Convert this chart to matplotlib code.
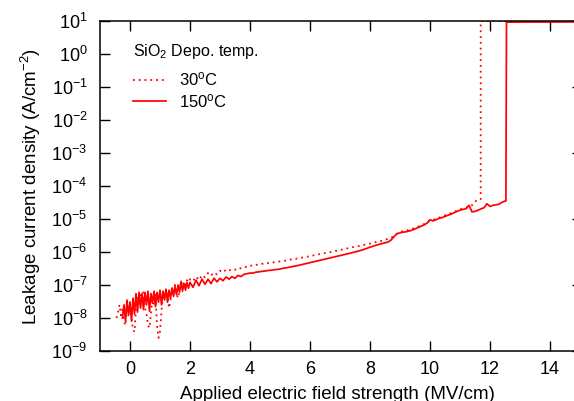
import numpy as np
import matplotlib
matplotlib.use("Agg")
import matplotlib.pyplot as plt
from matplotlib.ticker import FixedLocator, NullLocator, FixedFormatter

plt.rcParams['font.family'] = ['Liberation Sans', 'DejaVu Sans']
plt.rcParams['mathtext.fontset'] = 'custom'
plt.rcParams['mathtext.rm'] = 'Liberation Sans'
plt.rcParams['mathtext.it'] = 'Liberation Sans:italic'
plt.rcParams['mathtext.default'] = 'regular'

# ---------------- data: 150 C (solid) ----------------
x150_a = np.round(np.arange(-0.25, 2.0001, 0.05), 2)
y150_a = [1.0e-8, 2.5e-8, 8.0e-9, 3.5e-8, 1.2e-8, 3.0e-8, 8.0e-9, 4.0e-8, 1.3e-8, 5.5e-8,
          1.5e-8, 6.0e-8, 2.0e-8, 5.5e-8, 1.8e-8, 6.0e-8, 2.5e-8, 6.5e-8, 1.6e-8, 5.5e-8,
          2.8e-8, 6.5e-8, 2.2e-8, 6.0e-8, 3.0e-8, 7.0e-8, 2.5e-8, 6.5e-8, 3.5e-8, 7.5e-8,
          3.0e-8, 7.0e-8, 4.0e-8, 8.0e-8, 4.5e-8, 9.0e-8, 5.0e-8, 1.0e-7, 6.0e-8, 1.3e-7,
          6.5e-8, 1.1e-7, 7.0e-8, 1.2e-7, 8.0e-8, 1.2e-7]
x150_b = np.round(np.arange(2.1, 8.6001, 0.1), 2)
y150_b = [8.5e-8, 1.4e-7, 9.5e-8, 1.5e-7, 1.05e-7, 1.5e-7, 1.1e-7, 1.6e-7, 1.25e-7, 1.6e-7,
          1.35e-7, 1.75e-7, 1.5e-7, 1.8e-7, 1.6e-7, 1.95e-7, 1.8e-7, 2.1e-7, 2.2e-7, 2.3e-7,
          2.3e-7, 2.45e-7, 2.5e-7, 2.6e-7, 2.65e-7, 2.75e-7, 2.8e-7, 2.9e-7, 2.95e-7, 3.05e-7,
          3.2e-7, 3.3e-7, 3.45e-7, 3.6e-7, 3.75e-7, 3.9e-7, 4.1e-7, 4.3e-7, 4.5e-7, 4.8e-7,
          5.0e-7, 5.3e-7, 5.5e-7, 5.8e-7, 6.1e-7, 6.4e-7, 6.7e-7, 7.0e-7, 7.4e-7, 7.8e-7,
          8.2e-7, 8.6e-7, 9.0e-7, 9.5e-7, 1.0e-6, 1.06e-6, 1.12e-6, 1.2e-6, 1.3e-6, 1.4e-6,
          1.5e-6, 1.6e-6, 1.7e-6, 1.8e-6, 1.9e-6, 2.0e-6]
x150_c = np.round(np.arange(8.7, 12.5001, 0.1), 2)
y150_c = [2.3e-6, 2.9e-6, 3.6e-6, 3.8e-6, 4.0e-6, 4.1e-6, 4.3e-6, 4.6e-6, 5.0e-6, 5.5e-6,
          6.0e-6, 6.6e-6, 7.5e-6, 9.5e-6, 8.8e-6, 9.5e-6, 1.05e-5, 1.1e-5, 1.2e-5, 1.3e-5,
          1.4e-5, 1.55e-5, 1.7e-5, 1.85e-5, 1.95e-5, 2.05e-5, 2.6e-5, 1.65e-5, 1.7e-5, 1.85e-5,
          2.0e-5, 2.2e-5, 2.9e-5, 2.4e-5, 2.6e-5, 2.7e-5, 2.8e-5, 3.2e-5, 3.5e-5]
x150_d = [12.53, 12.55, 13.0, 13.5, 14.0, 14.5, 14.8]
y150_d = [3.5e-5, 9.2, 9.3, 9.3, 9.3, 9.4, 9.4]

# ---------------- data: 30 C (dotted) ----------------
x30_a = np.round(np.arange(-0.45, 2.0001, 0.05), 2)
y30_a = [1.0e-8, 1.5e-8, 2.5e-8, 1.2e-8, 2.0e-8, 8.0e-9, 6.0e-9, 2.5e-8, 1.5e-8, 3.0e-8,
         1.0e-8, 4.5e-9, 3.8e-9, 2.0e-8, 4.0e-8, 2.5e-8, 5.0e-8, 3.0e-8, 6.0e-8, 2.0e-8,
         1.3e-8, 6.0e-9, 5.0e-9, 1.5e-8, 4.5e-8, 2.5e-8, 5.5e-8, 6.0e-9, 2.5e-9, 4.0e-9,
         1.5e-8, 6.0e-8, 4.0e-8, 7.0e-8, 5.0e-8, 2.0e-8, 3.5e-8, 8.0e-8, 6.0e-8, 1.0e-7,
         5.5e-8, 4.0e-8, 6.5e-8, 1.1e-7, 9.0e-8, 1.3e-7, 1.0e-7, 1.4e-7, 1.2e-7, 1.5e-7]
x30_b = np.round(np.arange(2.1, 8.6001, 0.1), 2)
y30_b = [1.3e-7, 1.8e-7, 1.4e-7, 2.0e-7, 1.7e-7, 2.3e-7, 1.9e-7, 2.4e-7, 2.1e-7, 2.7e-7,
         2.4e-7, 2.9e-7, 2.7e-7, 3.1e-7, 2.9e-7, 3.3e-7, 3.2e-7, 3.6e-7, 3.5e-7, 3.9e-7,
         3.8e-7, 4.1e-7, 4.1e-7, 4.4e-7, 4.3e-7, 4.6e-7, 4.6e-7, 4.9e-7, 5.0e-7, 5.2e-7,
         5.4e-7, 5.5e-7, 5.8e-7, 6.0e-7, 6.2e-7, 6.4e-7, 6.7e-7, 6.9e-7, 7.2e-7, 7.5e-7,
         7.9e-7, 8.2e-7, 8.5e-7, 8.9e-7, 9.3e-7, 9.7e-7, 1.0e-6, 1.05e-6, 1.1e-6, 1.15e-6,
         1.2e-6, 1.26e-6, 1.32e-6, 1.38e-6, 1.45e-6, 1.5e-6, 1.58e-6, 1.65e-6, 1.72e-6, 1.8e-6,
         1.9e-6, 2.0e-6, 2.1e-6, 2.2e-6, 2.35e-6, 2.5e-6]
x30_c = np.round(np.arange(8.7, 11.6001, 0.1), 2)
y30_c = [2.7e-6, 3.0e-6, 3.6e-6, 4.0e-6, 4.3e-6, 4.5e-6, 4.7e-6, 5.0e-6, 5.4e-6, 5.9e-6,
         6.4e-6, 7.0e-6, 7.8e-6, 9.0e-6, 9.5e-6, 1.0e-5, 1.1e-5, 1.2e-5, 1.3e-5, 1.4e-5,
         1.5e-5, 1.65e-5, 1.8e-5, 1.95e-5, 2.1e-5, 2.2e-5, 2.35e-5, 2.6e-5, 3.3e-5, 4.0e-5]
x30_d = [11.69, 11.69, 12.5, 13.5, 14.8]
y30_d = [4.0e-5, 10.0, 10.0, 10.0, 10.0]

x150 = np.concatenate([x150_a, x150_b, x150_c, x150_d])
y150 = np.concatenate([y150_a, y150_b, y150_c, y150_d])
x30 = np.concatenate([x30_a, x30_b, x30_c, x30_d])
y30 = np.concatenate([y30_a, y30_b, y30_c, y30_d])

xticks = [0, 2, 4, 6, 8, 10, 12, 14]
yexps = list(range(-9, 2))
ylabels = [r'10$^{%d}$' % e if e >= 0 else r'10$^{-%d}$' % (-e) for e in yexps]

legend_title = r'SiO$_2$ Depo. temp.'
series_labels = [r'30$^{\rm o}$C', r'150$^{\rm o}$C']

# ---------------- figure ----------------
fig = plt.figure(figsize=(5.74, 4.01), dpi=100)
ax = fig.add_axes([100/574, 50/401, 474/574, 330/401])

red = '#ff0000'
ax.plot(x30, y30, color=red, lw=1.3, linestyle=(0, (1, 2.2)), label=series_labels[0])
ax.plot(x150, y150, color=red, lw=1.25, linestyle='-', label=series_labels[1])

ax.set_yscale('log')
ax.set_xlim(-1.0, 14.8)
ax.set_ylim(1e-9, 1e1)

ax.xaxis.set_major_locator(FixedLocator(xticks))
ax.set_xticklabels([str(t) for t in xticks])
ax.yaxis.set_major_locator(FixedLocator([10.0**e for e in yexps]))
ax.yaxis.set_major_formatter(FixedFormatter(ylabels))
ax.yaxis.set_minor_locator(NullLocator())
ax.xaxis.set_minor_locator(NullLocator())

for s in ['left', 'bottom', 'top']:
    ax.spines[s].set_linewidth(1.1)
ax.spines['right'].set_visible(False)

ax.tick_params(axis='both', which='major', direction='in', length=7, width=1.0,
               labelsize=13, top=True, right=False)
ax.tick_params(axis='y', pad=9)
ax.tick_params(axis='x', pad=7)
# short ticks on the right edge
ax2 = ax.secondary_yaxis('right')
ax2.spines['right'].set_visible(False)
ax2.tick_params(direction='in', length=1.5, width=1.0, labelright=False)

ax.set_xlabel('Applied electric field strength (MV/cm)', fontsize=13.5, labelpad=6)
ax.set_ylabel(r'Leakage current density (A/cm$^{-2}$)', fontsize=13.5, labelpad=6)

leg = ax.legend(title=legend_title, loc='upper left', bbox_to_anchor=(0.055, 0.957),
                frameon=False, fontsize=12, title_fontsize=11.5, handlelength=2.0,
                handletextpad=0.75, labelspacing=0.22, borderaxespad=0, alignment='left')
leg._legend_box.sep = 7

fig.savefig('out.png', dpi=100)
